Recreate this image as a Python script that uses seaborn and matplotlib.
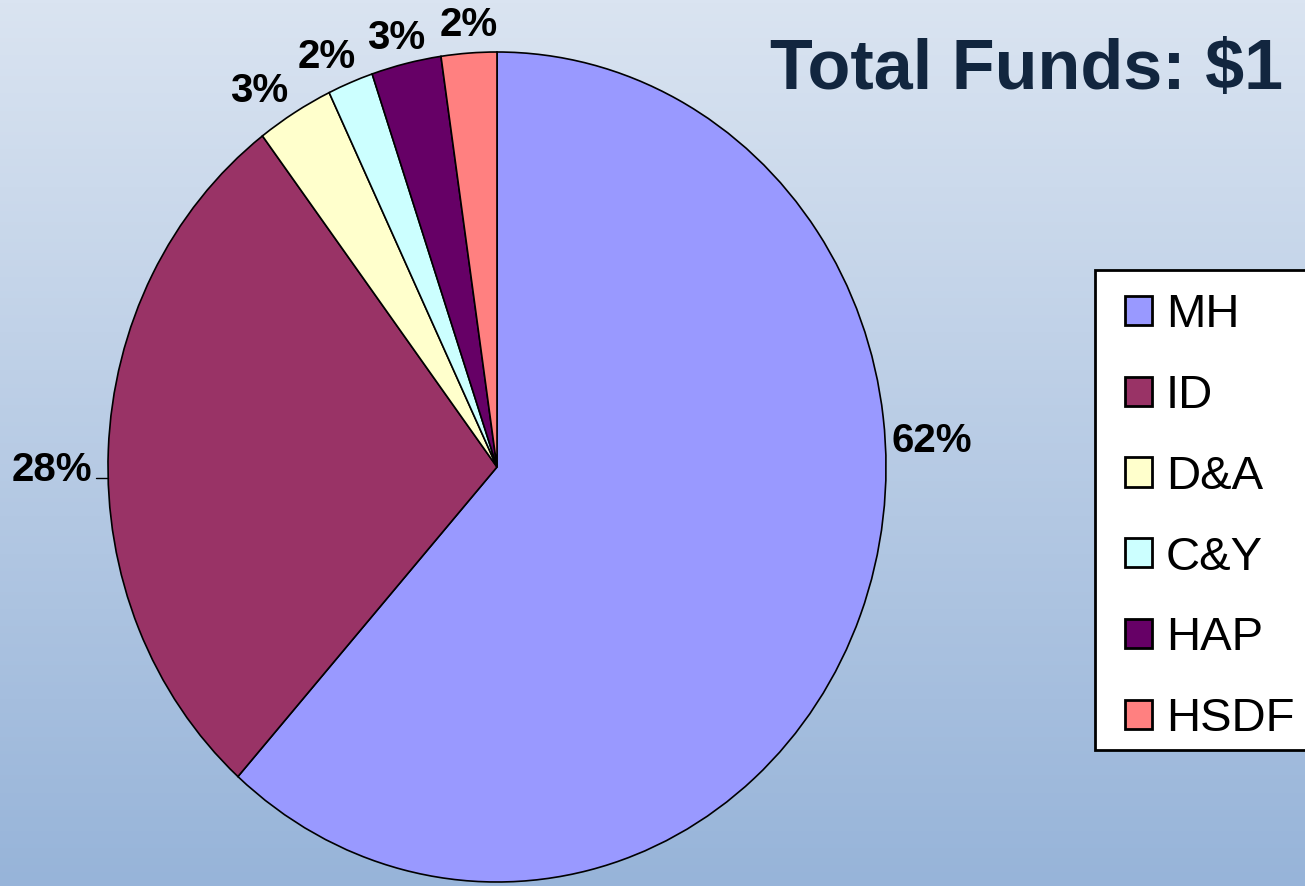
import numpy as np
import matplotlib
matplotlib.use("Agg")
import matplotlib.pyplot as plt
import seaborn as sns
from matplotlib.colors import LinearSegmentedColormap
from matplotlib.patches import Rectangle

# ---- data ----
categories = ["MH", "ID", "D&A", "C&Y", "HAP", "HSDF"]
shares = [61.6, 28.1, 3.2, 1.9, 2.9, 2.3]
colors = ["#9999FF", "#993366", "#FFFFCC", "#CCFFFF", "#660066", "#FF8080"]
title_text = "Total Funds: $1"

sns.set_theme(style="white")
plt.rcParams["font.family"] = ["Liberation Sans", "DejaVu Sans"]
plt.rcParams["text.color"] = "black"

W, H = 1305, 886
fig = plt.figure(figsize=(W / 100, H / 100), dpi=100)

# background gradient
bg = fig.add_axes([0, 0, 1, 1], zorder=0)
cmap = LinearSegmentedColormap.from_list("bg", ["#97b4d9", "#dae4f1"])
grad = np.linspace(0, 1, 256).reshape(-1, 1)
bg.imshow(grad, aspect="auto", cmap=cmap, origin="lower", extent=[0, 1, 0, 1])
bg.set_axis_off()

# pie axes (elliptical pie)
cx, cy, rx, ry = 497, 467, 389, 415
ax = fig.add_axes([(cx - rx) / W, (H - cy - ry) / H, 2 * rx / W, 2 * ry / H], zorder=1)
ax.set_facecolor("none")
pal = sns.color_palette(colors)
wedges, texts, autotexts = ax.pie(
    shares, colors=pal, startangle=90, counterclock=False,
    autopct="%1.0f%%", pctdistance=1.075, radius=1.0,
    wedgeprops=dict(edgecolor="black", linewidth=1.2),
    textprops=dict(fontsize=29, fontweight="bold", color="black"),
)
ax.set_aspect("auto")
ax.set_xlim(-1, 1)
ax.set_ylim(-1, 1)
ax.set_axis_off()

# label placement (Excel-style, outside the pie)
label_pos = [(1.118, 0.063), (-1.144, -0.007), (-0.612, 0.906),
             (-0.437, 0.988), (-0.260, 1.034), (-0.072, 1.065)]
for t, p in zip(autotexts, label_pos):
    t.set_ha("center")
    t.set_va("center")
    t.set_position(p)
# leader line for 28% label
ax.plot([-1.03, -1.0], [-0.026, -0.026], color="black", lw=1.0, clip_on=False)

# title (runs to the right edge)
fig.text(770 / W, 1 - 89 / H, title_text, fontsize=50.5, fontweight="bold",
         color="#12263f", ha="left", va="baseline", zorder=3)

# legend frame
fig.patches.append(Rectangle((1095 / W, 1 - 750 / H), (1320 - 1095) / W, (750 - 270) / H,
                             transform=fig.transFigure, facecolor="white",
                             edgecolor="black", linewidth=2, zorder=4))
leg = fig.legend(
    wedges, categories, loc="upper left",
    bbox_to_anchor=(1125 / W, 1 - 293 / H),
    fontsize=34, frameon=False,
    handlelength=0.57, handleheight=0.57, handletextpad=0.3,
    labelspacing=0.78, borderpad=0, borderaxespad=0,
)
leg.set_zorder(5)
for h in leg.legend_handles:
    h.set_linewidth(2)
for t in leg.get_texts():
    t.set_color("black")

fig.savefig("out.png", dpi=100)
